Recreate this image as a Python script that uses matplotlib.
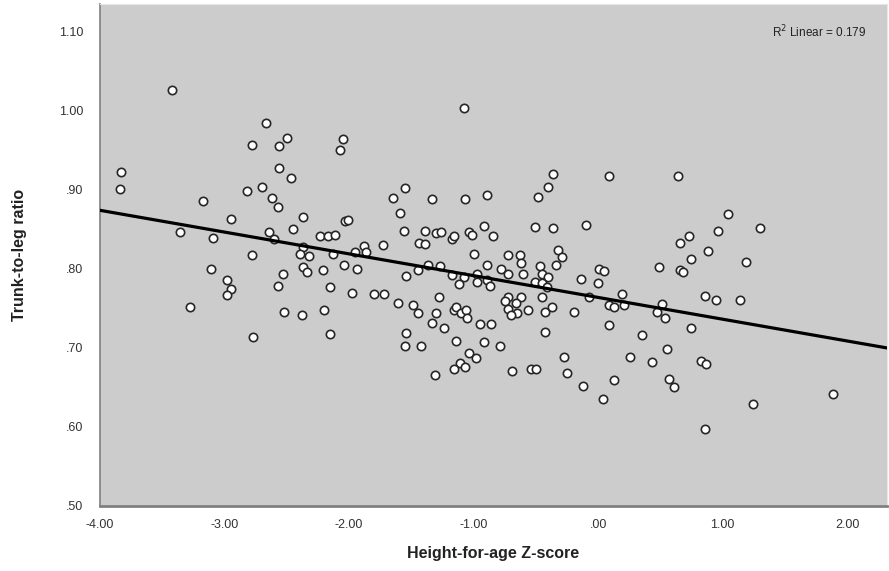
import matplotlib
matplotlib.use("Agg")
import matplotlib.pyplot as plt
import matplotlib.ticker as plticker
import numpy as np

plt.rcParams['font.family'] = ['Liberation Sans', 'DejaVu Sans']

# Height-for-age Z-score (x) and trunk-to-leg ratio (y)
haz = [
    -3.42, -2.67, -2.50, -2.78, -2.56, -3.83, -2.56, -2.47, -3.84, -2.82,
    -2.70, -3.17, -2.62, -2.57, -2.95, -3.36, -3.09, -2.64, -2.60, -2.45,
    -2.78, -3.11, -2.98, -2.95, -2.98, -2.53, -2.57, -3.28, -2.52, -2.77,
    -2.05, -2.07, -1.55, -1.65, -1.59, -2.37, -2.03, -2.01, -1.56, -1.39,
    -2.23, -2.17, -2.11, -1.44, -1.39, -1.88, -1.73, -2.37, -2.39, -2.32,
    -2.37, -2.34, -2.13, -1.95, -1.86, -2.04, -1.94, -2.21, -2.15, -1.98,
    -1.80, -1.72, -1.61, -1.54, -1.45, -1.37, -2.38, -2.20, -2.15, -1.49,
    -1.45, -1.54, -1.55, -1.42,
    -1.08, -0.36, -0.40, -0.48, -1.33, -1.07, -0.89, -1.30, -1.26, -1.17,
    -1.16, -1.04, -1.01, -0.92, -0.84, -0.51, -0.36, -1.00, -0.72, -0.63,
    -0.62, -0.32, -0.29, -0.34, -0.47, -0.89, -1.27, -0.78, -0.72, -0.60,
    -0.97, -1.17, -1.08, -1.12, -0.97, -0.89, -0.87, -0.45, -0.40, -0.51,
    -0.45, -0.41, -0.45, -1.28, -0.72, -0.62, -0.66, -0.75, -0.72, -0.65,
    -0.70, -1.30, -1.33, -1.24, -1.16, -1.14, -1.10, -1.06, -1.05, -0.95,
    -0.86, -1.14, -0.92, -0.79, -1.04, -0.98, -1.11, -1.16, -1.07, -1.31,
    -0.69, -0.54, -0.50, -0.27, -0.25, -0.43, -0.43, -0.37, -0.56,
    0.09, 0.64, -0.10, 1.04, 0.96, 1.30, 0.73, 0.66, 0.88, 0.75,
    1.19, 0.01, 0.05, 0.49, 0.66, 0.685, -0.14, 0.00, -0.07, 0.19,
    0.09, 0.13, 0.21, 0.51, 0.47, 0.54, 0.86, 0.95, 1.14, -0.19,
    0.09, 0.35, 0.75, 0.26, 0.43, 0.55, 0.83, 0.87, -0.12, 0.04,
    0.13, 0.57, 0.61, 1.24, 1.89, 0.86,
]
ratio = [
    1.026, 0.984, 0.966, 0.957, 0.955, 0.923, 0.927, 0.915, 0.901, 0.898,
    0.904, 0.886, 0.889, 0.878, 0.863, 0.847, 0.839, 0.846, 0.838, 0.850,
    0.818, 0.800, 0.786, 0.775, 0.767, 0.794, 0.778, 0.752, 0.746, 0.714,
    0.964, 0.950, 0.902, 0.889, 0.870, 0.866, 0.861, 0.862, 0.848, 0.848,
    0.842, 0.842, 0.843, 0.833, 0.832, 0.829, 0.830, 0.828, 0.819, 0.816,
    0.802, 0.796, 0.819, 0.821, 0.821, 0.805, 0.800, 0.798, 0.777, 0.770,
    0.768, 0.768, 0.757, 0.791, 0.798, 0.805, 0.741, 0.748, 0.717, 0.754,
    0.744, 0.719, 0.703, 0.703,
    1.003, 0.920, 0.903, 0.891, 0.888, 0.888, 0.894, 0.845, 0.847, 0.838,
    0.842, 0.847, 0.843, 0.854, 0.841, 0.853, 0.852, 0.819, 0.817, 0.817,
    0.808, 0.824, 0.815, 0.805, 0.804, 0.805, 0.803, 0.800, 0.793, 0.794,
    0.794, 0.792, 0.790, 0.781, 0.783, 0.786, 0.778, 0.793, 0.790, 0.783,
    0.782, 0.777, 0.765, 0.764, 0.764, 0.765, 0.757, 0.759, 0.749, 0.744,
    0.741, 0.744, 0.732, 0.725, 0.748, 0.752, 0.744, 0.748, 0.738, 0.730,
    0.730, 0.709, 0.707, 0.703, 0.694, 0.687, 0.681, 0.673, 0.676, 0.666,
    0.671, 0.673, 0.673, 0.689, 0.668, 0.720, 0.745, 0.752, 0.748,
    0.918, 0.918, 0.856, 0.869, 0.848, 0.852, 0.841, 0.833, 0.822, 0.812,
    0.809, 0.800, 0.797, 0.802, 0.799, 0.796, 0.787, 0.782, 0.764, 0.768,
    0.754, 0.752, 0.754, 0.756, 0.746, 0.738, 0.766, 0.760, 0.760, 0.746,
    0.729, 0.716, 0.725, 0.689, 0.682, 0.698, 0.684, 0.680, 0.652, 0.635,
    0.659, 0.661, 0.651, 0.629, 0.642, 0.597,
]
r2_text = "R$^2$ Linear = 0.179"

x_ticks = [-4, -3, -2, -1, 0, 1, 2]
y_ticks = [0.5, 0.6, 0.7, 0.8, 0.9, 1.0, 1.1]

fig = plt.figure(figsize=(8.89, 5.71), dpi=100)
ax = fig.add_axes([100 / 889, 65 / 571, 787 / 889, 502 / 571])
ax.set_facecolor('#cccccc')

ax.scatter(haz, ratio, s=36, facecolors='white', edgecolors='#262626',
           linewidths=1.2, zorder=3)

# least squares fit line across the whole x range
slope, intercept = np.polyfit(haz, ratio, 1)
xx = np.array([-4.0, 2.32])
ax.plot(xx, intercept + slope * xx, color='black', lw=2.3, zorder=4)

ax.set_xlim(-4.0, 2.32)
ax.set_ylim(0.5, 1.135)
ax.set_xticks(x_ticks)
ax.set_yticks(y_ticks)


def spss_fmt(v, pos):
    s = "%.2f" % v
    if s.startswith("0."):
        s = s[1:]
    elif s.startswith("-0."):
        s = "-" + s[2:]
    return s


ax.xaxis.set_major_formatter(plticker.FuncFormatter(spss_fmt))
ax.yaxis.set_major_formatter(plticker.FuncFormatter(spss_fmt))
ax.tick_params(axis='both', length=0, labelsize=9, colors='#333333')
ax.tick_params(axis='x', pad=9)
ax.tick_params(axis='y', pad=12)

for side in ['top', 'right']:
    ax.spines[side].set_color('#e6e6e6')
    ax.spines[side].set_linewidth(0.8)
ax.spines['left'].set_color('#808080')
ax.spines['left'].set_linewidth(1.2)
ax.spines['bottom'].set_color('#808080')
ax.spines['bottom'].set_linewidth(2.0)

ax.set_xlabel("Height-for-age Z-score", fontsize=11.5, fontweight='bold',
              color='#222222', labelpad=11)
ax.set_ylabel("Trunk-to-leg ratio", fontsize=11.5, fontweight='bold',
              color='#222222', labelpad=23)

ax.text(0.974, 0.944, r2_text, transform=ax.transAxes, ha='right',
        va='center', fontsize=8.5, color='#222222')

fig.savefig("out.png", dpi=100, facecolor='white')
